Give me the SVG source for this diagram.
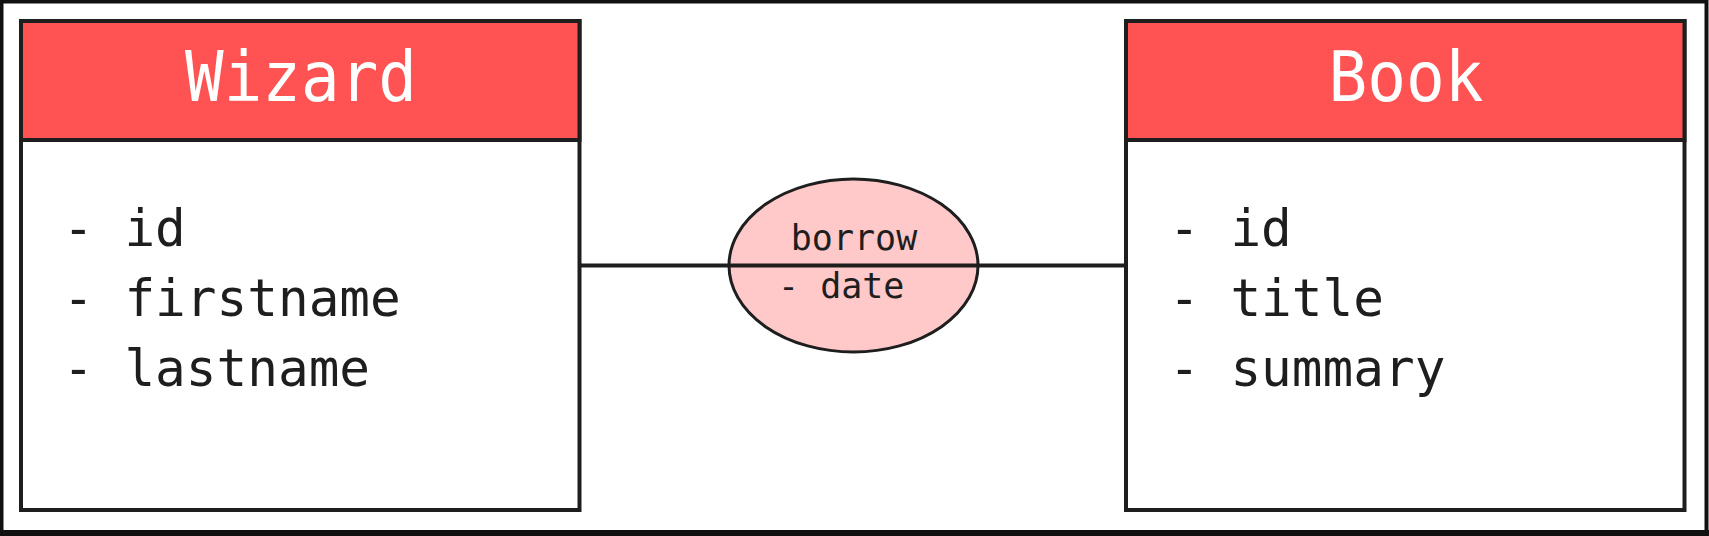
<svg xmlns="http://www.w3.org/2000/svg" width="1709" height="536" viewBox="0 0 1709 536">
  <style>
    .box { fill: #ffffff; stroke: #1e1e1e; stroke-width: 4; }
    .head { fill: #ff5252; stroke: #1e1e1e; stroke-width: 4; }
    .title { font-family: "DejaVu Sans Mono", "Liberation Mono", monospace; font-size: 70px; fill: #ffffff; text-anchor: middle; }
    .attr { font-family: "DejaVu Sans Mono", "Liberation Mono", monospace; font-size: 51px; fill: #1e1e1e; }
    .rel { font-family: "DejaVu Sans Mono", "Liberation Mono", monospace; font-size: 35px; fill: #1e1e1e; }
    .conn { stroke: #1e1e1e; stroke-width: 4; fill: none; }
  </style>
  <rect x="0" y="0" width="1709" height="536" fill="#ffffff"/>
  <rect x="1.5" y="1.5" width="1705" height="531" fill="none" stroke="#111111" stroke-width="4"/>
  <rect x="0" y="530" width="1709" height="6" fill="#111111"/>

  <g id="wizard">
    <rect class="box" x="21" y="21" width="558.5" height="489"/>
    <rect class="head" x="21" y="21" width="558.5" height="119"/>
    <text class="title" x="301" y="101" textLength="232" lengthAdjust="spacingAndGlyphs">Wizard</text>
    <text class="attr" x="63" y="246">- id</text>
    <text class="attr" x="63" y="316">- firstname</text>
    <text class="attr" x="63" y="386">- lastname</text>
  </g>

  <g id="book">
    <rect class="box" x="1126" y="21" width="558.5" height="489"/>
    <rect class="head" x="1126" y="21" width="558.5" height="119"/>
    <text class="title" x="1406" y="101" textLength="155" lengthAdjust="spacingAndGlyphs">Book</text>
    <text class="attr" x="1169" y="246">- id</text>
    <text class="attr" x="1169" y="316">- title</text>
    <text class="attr" x="1169" y="386">- summary</text>
  </g>

  <g id="borrow">
    <ellipse cx="853.5" cy="265.5" rx="124.5" ry="86.5" fill="#ffc9c9" stroke="#1e1e1e" stroke-width="3"/>
    <text class="rel" x="854" y="250" text-anchor="middle">borrow</text>
    <text class="rel" x="778" y="298">- date</text>
  </g>

  <g id="connectors">
    <line class="conn" x1="579" y1="265.5" x2="1126" y2="265.5"/>
  </g>
</svg>
